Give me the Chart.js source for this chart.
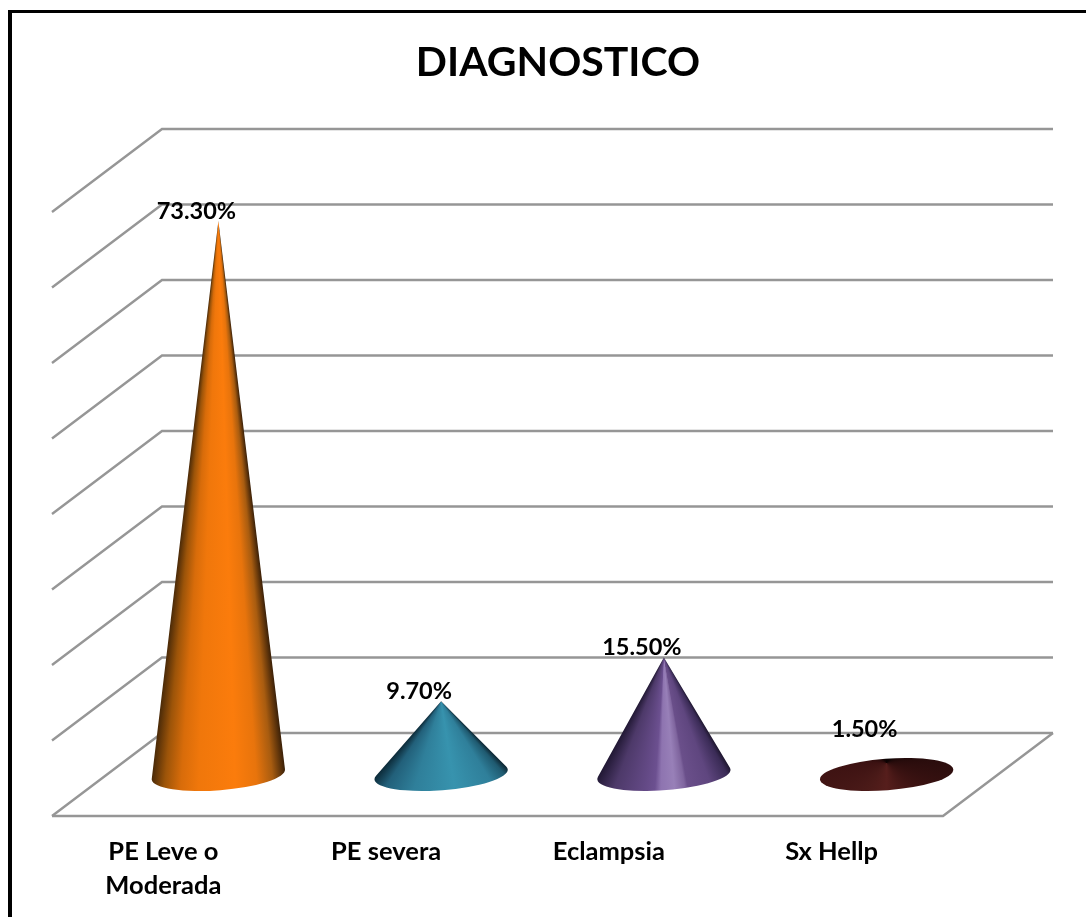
<!DOCTYPE html>
<html>
<head>
<meta charset="utf-8">
<title>DIAGNOSTICO</title>
<script src="https://cdn.jsdelivr.net/npm/chart.js@4"></script>
<style>
  html, body { margin: 0; padding: 0; background: #fff; overflow: hidden; }
  #frame { position: absolute; left: 8px; top: 10px; width: 1200px; height: 1000px; border-left: 4px solid #000; border-top: 3px solid #000; }
  #chart { position: absolute; left: 0; top: 0; }
</style>
</head>
<body>
<div id="frame"></div>
<canvas id="chart" width="1086" height="917"></canvas>
<script>
const categories = [["PE Leve o", "Moderada"], "PE severa", "Eclampsia", "Sx Hellp"];
const percentValues = [73.3, 9.7, 15.5, 1.5];
const valueLabels = ["73.30%", "9.70%", "15.50%", "1.50%"];

// Sombreado de cada cono, de izquierda a derecha
const orangeShade = [[0, "#4a2a08"], [0.1, "#9c5409"], [0.22, "#d86c0a"], [0.35, "#f0770b"], [0.62, "#fb7c0c"], [0.78, "#e8740c"], [0.9, "#a85c10"], [1, "#3a2008"]];
const tealShade = [[0, "#0c2a38"], [0.12, "#22607a"], [0.3, "#2f7f9a"], [0.55, "#3793ae"], [0.8, "#2f7f9a"], [0.93, "#1f5a70"], [1, "#0c2430"]];
const purpleShade = [[0, "#211834"], [0.15, "#4d3969"], [0.35, "#634985"], [0.42, "#6c5090"], [0.46, "#8e74b0"], [0.55, "#9880b8"], [0.62, "#7f659e"], [0.64, "#6a4f8a"], [0.8, "#5f467f"], [0.95, "#3a2b56"], [1, "#1e162e"]];
const coneShades = [orangeShade, tealShade, purpleShade];
// El ultimo es tan bajo que solo se ve la base, sombreada alrededor de la punta
const flatShade = [[0, "#2c0d0d"], [0.12, "#3f1413"], [0.25, "#561e1c"], [0.36, "#4a1a18"], [0.5, "#3d1212"], [0.56, "#2c0c0c"], [0.64, "#150505"], [0.75, "#0a0202"], [0.87, "#100404"], [1, "#2c0d0d"]];

const depthX = 110;
const depthY = -83;
const baseTilt = -0.075;
const baseRatio = 0.118;

// Paredes y piso en perspectiva
const wallsPlugin = {
  id: "walls",
  afterLayout(chart) {
    // el titulo va centrado en el marco, no en el area del grafico
    chart.titleBlock.left = 30;
    chart.titleBlock.right = chart.width;
  },
  beforeDatasetsDraw(chart) {
    const { ctx, chartArea, scales } = chart;
    const left = chartArea.left;
    const right = chartArea.right;
    ctx.save();
    ctx.strokeStyle = "#969696";
    ctx.lineWidth = 2.4;
    ctx.lineCap = "butt";
    scales.y.ticks.forEach(tick => {
      const y = scales.y.getPixelForValue(tick.value);
      ctx.beginPath();
      ctx.moveTo(left, y);
      ctx.lineTo(left + depthX, y + depthY);
      ctx.lineTo(right + depthX, y + depthY);
      ctx.stroke();
    });
    const bottom = scales.y.getPixelForValue(0);
    ctx.beginPath();
    ctx.moveTo(left, bottom);
    ctx.lineTo(right, bottom);
    ctx.lineTo(right + depthX, bottom + depthY);
    ctx.stroke();
    ctx.restore();
  }
};

// Degradado en abanico desde la punta hasta los dos bordes del cono
function shadeFill(ctx, tipX, tipY, pointLeft, pointRight, stops) {
  const slopeLeft = (pointLeft.x - tipX) / (pointLeft.y - tipY);
  const slopeRight = (pointRight.x - tipX) / (pointRight.y - tipY);
  const rayAngle = f => Math.atan2(1, slopeLeft + (slopeRight - slopeLeft) * f);
  const start = rayAngle(1);
  const span = rayAngle(0) - start;
  const grad = ctx.createConicGradient(start, tipX, tipY);
  stops.forEach(([f, color]) => {
    grad.addColorStop((rayAngle(f) - start) / (2 * Math.PI), color);
  });
  // el resto de la vuelta queda fuera del cono
  grad.addColorStop(span / (2 * Math.PI) + 0.001, stops[0][1]);
  return grad;
}

function drawCone(ctx, bar, index) {
  const cx = bar.x + depthX / 2;
  const cy = bar.base + depthY / 2;
  const tipY = bar.y + depthY / 2;
  const rx = bar.width / 2;
  const ry = bar.width * baseRatio;
  const cos = Math.cos(baseTilt);
  const sin = Math.sin(baseTilt);
  const dy = tipY - cy;
  const u = (dy * sin) / rx;
  const v = (dy * cos) / ry;
  const dist = Math.hypot(u, v);
  const onBase = angle => ({
    x: cx + rx * Math.cos(angle) * cos - ry * Math.sin(angle) * sin,
    y: cy + rx * Math.cos(angle) * sin + ry * Math.sin(angle) * cos,
  });

  ctx.beginPath();
  if (dist <= 1) {
    ctx.ellipse(cx, cy, rx, ry, baseTilt, 0, 2 * Math.PI);
    const grad = ctx.createConicGradient(0, cx, tipY);
    flatShade.forEach(([t, color]) => grad.addColorStop(t, color));
    ctx.fillStyle = grad;
  } else {
    const middle = Math.atan2(v, u);
    const spread = Math.acos(1 / dist);
    const angleRight = middle + spread;
    const angleLeft = middle - spread + 2 * Math.PI;
    ctx.moveTo(cx, tipY);
    ctx.ellipse(cx, cy, rx, ry, baseTilt, angleRight, angleLeft);
    ctx.closePath();
    ctx.fillStyle = shadeFill(ctx, cx, tipY, onBase(angleLeft), onBase(angleRight), coneShades[index]);
  }
  ctx.fill();
}

const conesPlugin = {
  id: "cones",
  afterDatasetsDraw(chart) {
    const { ctx } = chart;
    const bars = chart.getDatasetMeta(0).data;
    ctx.save();
    bars.forEach((bar, i) => drawCone(ctx, bar, i));
    ctx.fillStyle = "#000";
    ctx.font = "bold 23.5px Lato";
    ctx.textAlign = "center";
    ctx.textBaseline = "middle";
    bars.forEach((bar, i) => {
      const cx = bar.x + depthX / 2;
      const tipY = bar.y + depthY / 2;
      const baseY = bar.base + depthY / 2;
      ctx.fillText(valueLabels[i], cx - 22, Math.min(tipY - 10, baseY - 45));
    });
    ctx.restore();
  }
};

new Chart(document.getElementById("chart"), {
  type: "bar",
  data: {
    labels: categories,
    datasets: [{
      label: "DIAGNOSTICO",
      data: percentValues,
      backgroundColor: "rgba(0,0,0,0)",
      categoryPercentage: 1,
      barPercentage: 0.6,
    }]
  },
  options: {
    responsive: false,
    animation: false,
    layout: { padding: { left: 52, right: 143, top: 0, bottom: 0 } },
    plugins: {
      legend: { display: false },
      tooltip: { enabled: false },
      title: {
        display: true,
        text: "DIAGNOSTICO",
        color: "#000",
        font: { family: "Lato", weight: "bold", size: 41 },
        padding: { top: 38, bottom: 124.8 },
      }
    },
    scales: {
      x: {
        grid: { display: false },
        border: { display: false },
        ticks: {
          color: "#000",
          font: { family: "Lato", weight: "bold", size: 25.5, lineHeight: 34 / 25.5 },
          padding: 11,
          autoSkip: false,
          maxRotation: 0,
        },
        afterFit(scale) { scale.height = 101; },
      },
      y: {
        min: 0,
        max: 80,
        afterFit(scale) { scale.width = 0; },
        ticks: { display: false, stepSize: 10 },
        grid: { display: false },
        border: { display: false },
      }
    }
  },
  plugins: [wallsPlugin, conesPlugin]
});
</script>
</body>
</html>
